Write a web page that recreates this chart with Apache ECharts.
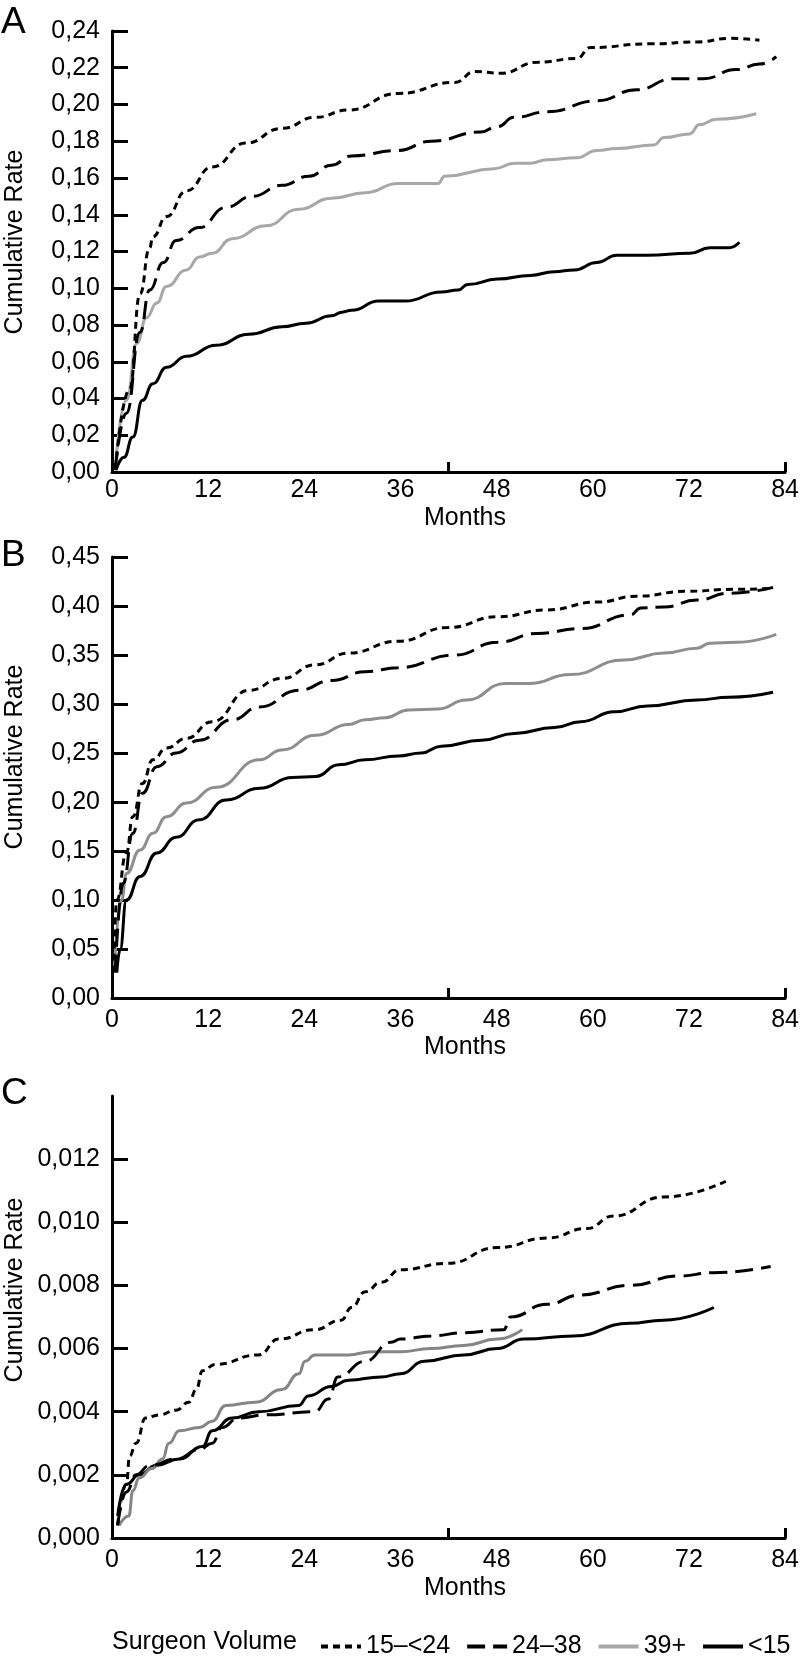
<!DOCTYPE html>
<html>
<head>
<meta charset="utf-8">
<script src="https://cdn.jsdelivr.net/npm/echarts@6/dist/echarts.min.js"></script>
<style>
html,body{margin:0;padding:0;background:#fff;}
#chart{width:802px;height:1663px;}
</style>
</head>
<body>
<div id="chart"></div>
<script>
// ---------- data (month, cumulative rate) ----------
const seriesNames = ['15\u2013<24', '24\u201338', '39+', '<15'];
const xTickLabels = [0, 12, 24, 36, 48, 60, 72, 84];

const A_dotted = [[0.4,0.001],[2.2,0.045],[3.5,0.097],[4.7,0.122],[5.1,0.128],[6.8,0.139],[9.3,0.153],[12.5,0.166],[16.7,0.179],[21.2,0.187],[25.4,0.193],[29.5,0.197],[35.7,0.206],[42.8,0.212],[45.3,0.218],[48.5,0.217],[53.1,0.223],[58,0.225],[59.7,0.231],[67.1,0.233],[73,0.234],[77,0.236],[80.8,0.235]];
const A_dashed = [[0.4,0.001],[1.8,0.032],[3.5,0.076],[4.7,0.099],[6.4,0.114],[8,0.126],[10.9,0.133],[14.2,0.144],[17.5,0.150],[21.2,0.156],[24.6,0.161],[27.4,0.167],[29.9,0.172],[35.7,0.175],[39.8,0.180],[46,0.185],[48.1,0.188],[50.2,0.193],[54.3,0.196],[60.5,0.202],[65.5,0.208],[70,0.214],[73.8,0.214],[77.9,0.219],[80.8,0.222],[82.9,0.226]];
const A_gray = [[0.4,0.002],[1.8,0.039],[3.1,0.070],[4.3,0.084],[5.6,0.092],[6.8,0.101],[9.3,0.110],[10.9,0.117],[12.5,0.119],[15,0.127],[19.2,0.134],[23.3,0.143],[27.4,0.149],[31.6,0.152],[35.7,0.157],[40.7,0.157],[41.5,0.161],[47.7,0.165],[50.2,0.168],[52.2,0.168],[54.3,0.170],[58,0.171],[60.5,0.175],[63,0.176],[67.6,0.178],[68.9,0.182],[72.1,0.184],[73.3,0.189],[75.4,0.192],[80.4,0.195]];
const A_black = [[0.5,0.001],[1.5,0.008],[2.6,0.019],[3.8,0.039],[5.1,0.048],[6.8,0.057],[9.3,0.063],[13,0.069],[17.1,0.075],[21.2,0.079],[24.2,0.081],[27.4,0.085],[28.7,0.087],[29.9,0.088],[33.3,0.093],[36.6,0.093],[41.1,0.098],[43.2,0.099],[44.4,0.102],[48.1,0.105],[52.2,0.107],[55.2,0.109],[57.7,0.110],[60.5,0.114],[63,0.118],[66.8,0.118],[72.1,0.119],[74.6,0.122],[77,0.122],[78.3,0.125]];

const B_dotted = [[0.2,0.026],[0.6,0.100],[1.8,0.148],[2.6,0.185],[3.8,0.219],[5.1,0.243],[6.8,0.255],[9.3,0.265],[12.5,0.282],[17.1,0.314],[21.2,0.326],[25.4,0.340],[29.5,0.352],[35.7,0.364],[41.9,0.378],[48.1,0.389],[54.3,0.396],[60.5,0.404],[65.5,0.410],[71.7,0.415],[77.5,0.417],[82.5,0.418]];
const B_dashed = [[0.4,0.026],[1.4,0.117],[2.6,0.168],[3.8,0.209],[5.6,0.236],[8,0.250],[10.9,0.263],[15,0.284],[18.4,0.297],[23.3,0.314],[27.4,0.324],[31.6,0.333],[35.7,0.337],[42.8,0.350],[48.1,0.363],[53.1,0.372],[58.5,0.377],[64.7,0.391],[66,0.398],[68.9,0.399],[73,0.406],[77,0.413],[82.5,0.419]];
const B_gray = [[0.3,0.032],[1.2,0.100],[1.8,0.127],[3.5,0.151],[5.1,0.168],[6.8,0.185],[9.3,0.199],[13,0.215],[18.4,0.243],[21.2,0.253],[25.4,0.268],[29.5,0.279],[31.6,0.284],[34.1,0.286],[37,0.294],[40.7,0.295],[44.2,0.304],[49.1,0.321],[52,0.321],[57.2,0.330],[63.9,0.345],[68.9,0.352],[73,0.357],[74.6,0.362],[77.9,0.363],[82.9,0.371]];
const B_black = [[0.6,0.026],[1,0.049],[1.8,0.100],[3.5,0.124],[5.6,0.148],[8,0.164],[10.9,0.182],[14.2,0.202],[18.4,0.214],[22.5,0.225],[25.4,0.226],[28.3,0.238],[31.6,0.243],[35.7,0.247],[38.6,0.250],[41.1,0.257],[46.1,0.263],[50.2,0.270],[55.2,0.276],[58.5,0.282],[62.7,0.292],[66.8,0.298],[73,0.304],[77,0.307],[82.5,0.312]];

const C_dotted = [[0.7,0.0004],[1.8,0.0017],[2.2,0.0026],[3,0.0030],[4.2,0.0038],[5.9,0.0039],[8,0.00405],[9.6,0.0043],[10.5,0.0047],[11.3,0.0053],[12.9,0.0055],[18.3,0.0058],[20.8,0.0063],[25.3,0.0066],[28.6,0.0069],[29.9,0.0073],[31.6,0.0078],[33.6,0.0081],[36,0.0085],[41.9,0.0087],[48.1,0.0092],[54.3,0.0095],[59.2,0.0098],[62.6,0.0102],[68.8,0.0108],[76.6,0.0113]];
const C_dashed = [[0.7,0.0004],[1.8,0.00146],[3,0.0020],[4.7,0.0023],[8,0.0025],[10.9,0.0028],[12.5,0.0030],[13.7,0.0035],[15.8,0.0038],[19.1,0.0039],[25.3,0.0040],[27,0.0044],[28.2,0.0051],[31.6,0.0056],[34.8,0.0062],[36,0.0063],[39.8,0.0064],[43.9,0.0065],[48.9,0.0066],[49.7,0.0070],[54.3,0.0074],[58.4,0.0077],[64.6,0.0080],[70.8,0.0083],[75,0.0084],[82.2,0.0086]];
const C_gray = [[0.9,0.0004],[2.1,0.0007],[2.6,0.0015],[3.4,0.0019],[5,0.0022],[6.3,0.0025],[7.1,0.0030],[8.4,0.0034],[10.9,0.0035],[12.5,0.0037],[14.2,0.0042],[17.9,0.0043],[21.2,0.0047],[23.3,0.0052],[24.1,0.0056],[25.3,0.0058],[29.5,0.0058],[32.4,0.0059],[36,0.0059],[39.8,0.0060],[43.9,0.0061],[48.1,0.0063],[51.2,0.0066]];
const C_black = [[0.7,0.0007],[1.8,0.0017],[3.4,0.0020],[5.5,0.0023],[8.4,0.0025],[11.3,0.0029],[12.5,0.0034],[15,0.0038],[18.3,0.0040],[23.3,0.0042],[24.5,0.0045],[27.4,0.0048],[29.5,0.0050],[33.6,0.0051],[36,0.0052],[39,0.0056],[43.9,0.0058],[48.1,0.0060],[51.4,0.0063],[57.6,0.0064],[64.6,0.0068],[68.8,0.0069],[75.1,0.0073]];

const A_yTicks = [0,0.02,0.04,0.06,0.08,0.10,0.12,0.14,0.16,0.18,0.20,0.22,0.24];
const B_yTicks = [0,0.05,0.10,0.15,0.20,0.25,0.30,0.35,0.40,0.45];
const C_yTicks = [0,0.002,0.004,0.006,0.008,0.010,0.012];
const xMajorTicks = [42, 84];

// ---------- chart ----------
const FONT = 'Liberation Sans, Arial, Helvetica, sans-serif';
const FS = 25;
const chart = echarts.init(document.getElementById('chart'), null, {renderer: 'canvas'});

const panels = [
  {grid: {left: 112, top: 31, width: 677, height: 441}, yMax: 0.24, yTicks: A_yTicks, dec: 2, xMargin: 6,
   data: [A_dotted, A_dashed, A_gray, A_black], gray: '#a8a8a8', letter: 'A', letterY: 23, ylabY: 242, monthsY: 518},
  {grid: {left: 112, top: 557, width: 677, height: 441}, yMax: 0.45, yTicks: B_yTicks, dec: 2, xMargin: 10,
   data: [B_dotted, B_dashed, B_gray, B_black], gray: '#8e8e8e', letter: 'B', letterY: 556, ylabY: 757, monthsY: 1047},
  {grid: {left: 112, top: 1096, width: 677, height: 442}, yMax: 0.014, yTicks: C_yTicks, dec: 3, xMargin: 10,
   data: [C_dotted, C_dashed, C_gray, C_black], gray: '#858585', letter: 'C', letterY: 1094, ylabY: 1290, monthsY: 1588}
];

const axisLineStyle = {color: '#000', width: 3};
const grids = [], xAxes = [], yAxes = [], series = [], graphics = [];

panels.forEach((p, i) => {
  grids.push(Object.assign({containLabel: false}, p.grid));
  xAxes.push({
    type: 'value', gridIndex: i, min: 0, max: 84, interval: 12,
    axisLine: {show: true, onZero: false, lineStyle: axisLineStyle},
    axisTick: {show: true, inside: true, length: 10, customValues: xMajorTicks, lineStyle: axisLineStyle},
    axisLabel: {show: true, customValues: xTickLabels, margin: p.xMargin, fontSize: FS, fontFamily: FONT, color: '#000'},
    splitLine: {show: false}
  });
  yAxes.push({
    type: 'value', gridIndex: i, min: 0, max: p.yMax,
    axisLine: {show: true, onZero: false, lineStyle: axisLineStyle},
    axisTick: {show: true, inside: true, length: 16, customValues: p.yTicks, lineStyle: axisLineStyle},
    axisLabel: {show: true, customValues: p.yTicks, margin: 12, fontSize: FS, fontFamily: FONT, color: '#000',
      formatter: v => v.toFixed(p.dec).replace('.', ',')},
    splitLine: {show: false}
  });
  const styles = [
    {color: '#000', type: [7, 5]},
    {color: '#000', type: [18, 8]},
    {color: p.gray, type: 'solid'},
    {color: '#000', type: 'solid'}
  ];
  p.data.forEach((d, k) => {
    series.push({
      type: 'line', name: seriesNames[k], xAxisIndex: i, yAxisIndex: i,
      data: d, symbol: 'none', showSymbol: false, smooth: 0.5, smoothMonotone: 'x',
      itemStyle: {color: styles[k].color},
      lineStyle: {color: styles[k].color, width: 3, type: styles[k].type, cap: 'butt'},
      z: 5 - k
    });
  });
  graphics.push({type: 'text', x: 1, y: p.letterY,
    style: {text: p.letter, fontSize: 37, fontFamily: FONT, fill: '#000', align: 'left', verticalAlign: 'middle'}});
  graphics.push({type: 'text', x: 15, y: p.ylabY, rotation: Math.PI / 2,
    style: {text: 'Cumulative Rate', fontSize: FS, fontFamily: FONT, fill: '#000', align: 'center', verticalAlign: 'middle'}});
  graphics.push({type: 'text', x: 465, y: p.monthsY,
    style: {text: 'Months', fontSize: FS, fontFamily: FONT, fill: '#000', align: 'center', verticalAlign: 'middle'}});
});

graphics.push({type: 'text', x: 112, y: 1642,
  style: {text: 'Surgeon Volume', fontSize: FS, fontFamily: FONT, fill: '#000', align: 'left', verticalAlign: 'middle'}});

chart.setOption({
  animation: false,
  backgroundColor: '#fff',
  grid: grids,
  xAxis: xAxes,
  yAxis: yAxes,
  series: series,
  legend: {
    data: seriesNames, left: 314, top: 1629, width: 488, orient: 'horizontal',
    itemWidth: 40, itemHeight: 26, itemGap: 15,
    itemStyle: {opacity: 0},
    lineStyle: {width: 4},
    textStyle: {fontSize: FS, fontFamily: FONT, color: '#000'},
    selectedMode: false
  },
  graphic: graphics
});
</script>
</body>
</html>
